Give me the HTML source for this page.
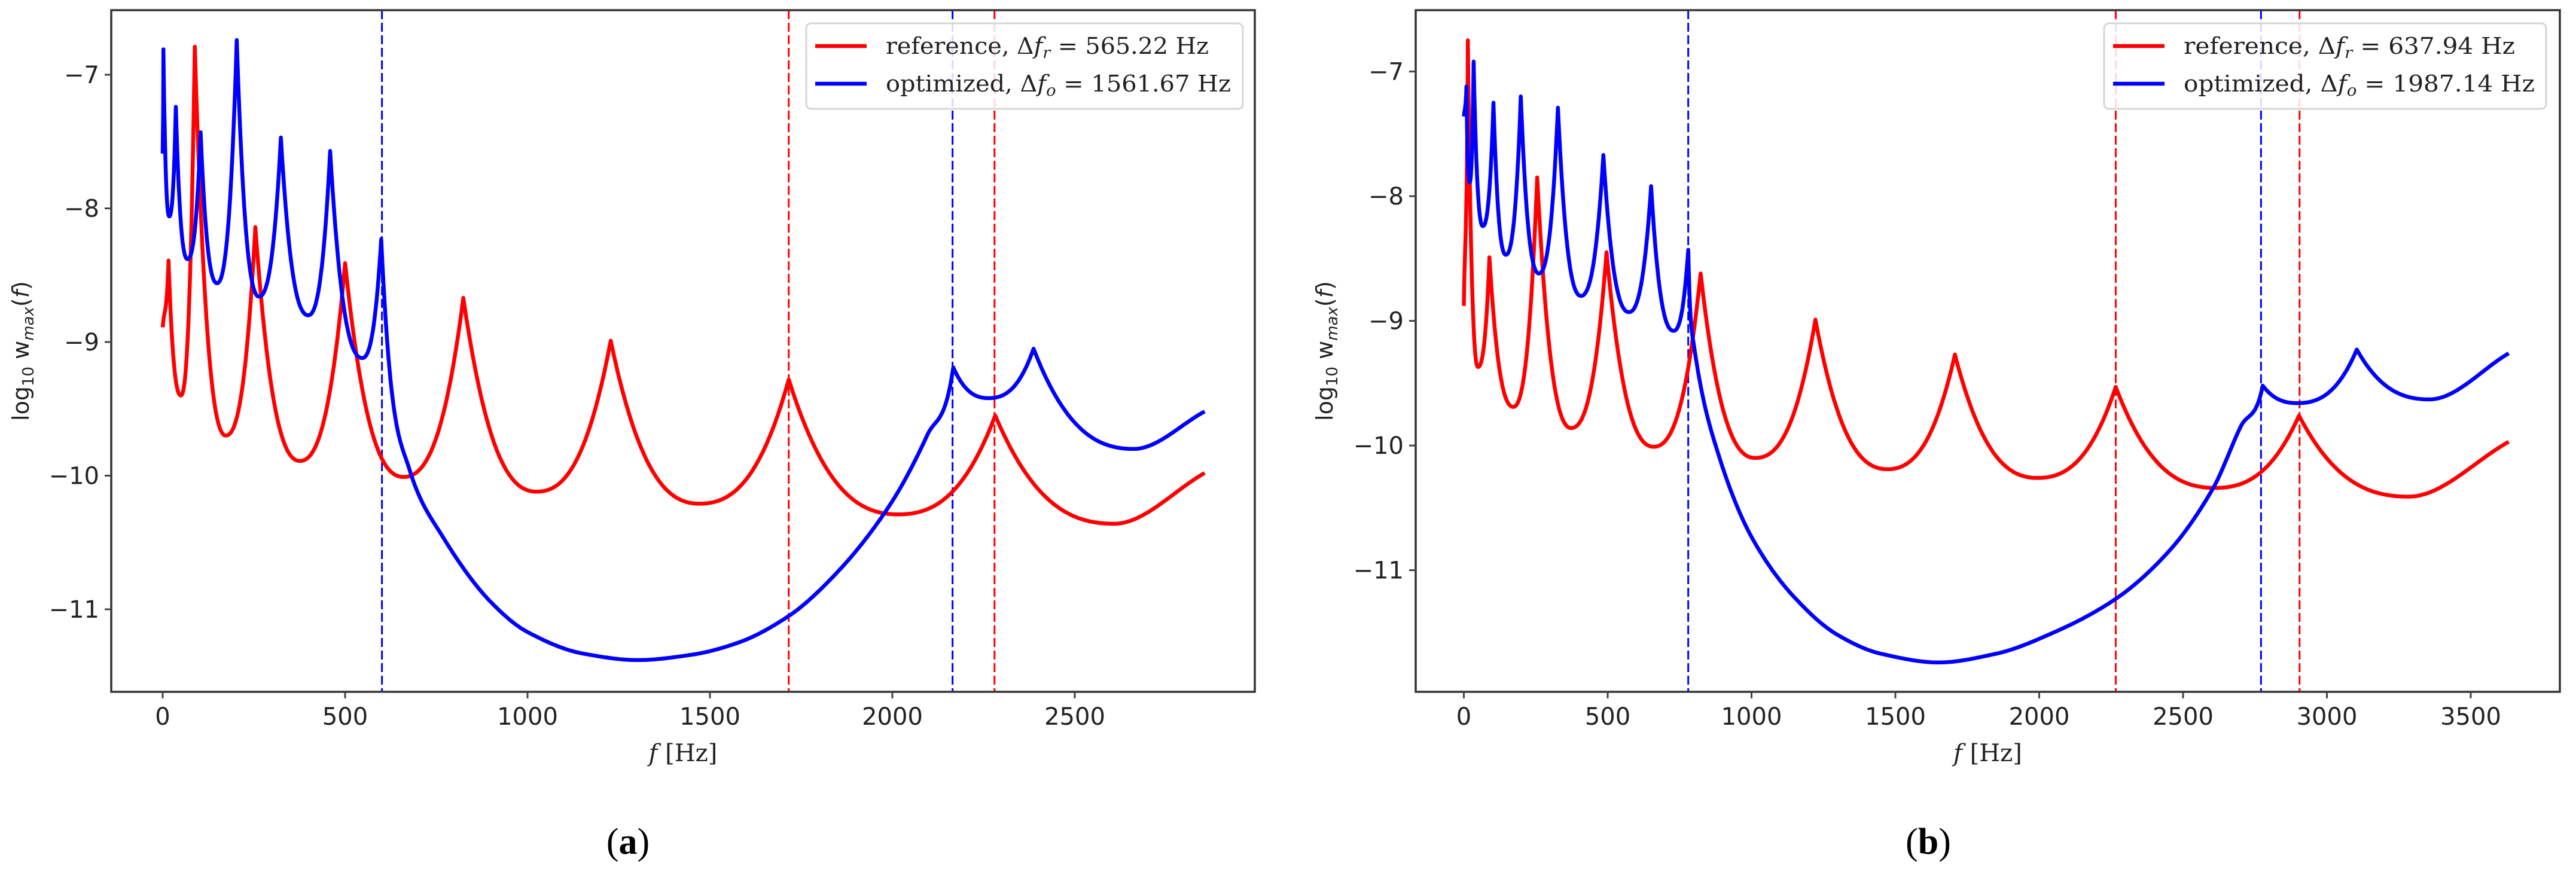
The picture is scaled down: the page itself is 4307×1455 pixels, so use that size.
<!DOCTYPE html>
<html><head><meta charset="utf-8">
<style>
html,body{margin:0;padding:0;background:#fff;}
svg{display:block;}
</style></head>
<body>
<svg id="fig" width="4307" height="1455" viewBox="0 0 4307 1455" xmlns="http://www.w3.org/2000/svg"></svg>
<script>
// ---------- Panel (a) data ----------
const aRefF = [0,16,50,88,173,254,376,500,660,824,1025,1228,1471,1716,2016,2282,2608,2856];
const aRefY = [-8.89,-8.39,-9.40,-6.79,-9.70,-8.14,-9.89,-8.41,-10.01,-8.67,-10.12,-8.99,-10.21,-9.28,-10.29,-9.55,-10.36,-9.98];
const aOptF = [0,2,18,36,68,104,149,203,264,324,399,459,547,599,676,766,901,1000,1150,1302,1450,1577,1716,1850,1993,2095,2167,2264,2387,2662,2856];
const aOptY = [-7.59,-6.81,-8.06,-7.24,-8.38,-7.43,-8.56,-6.74,-8.66,-7.47,-8.80,-7.57,-9.12,-8.23,-9.95,-10.45,-10.95,-11.17,-11.33,-11.38,-11.34,-11.25,-11.05,-10.72,-10.22,-9.70,-9.19,-9.42,-9.05,-9.80,-9.52];
const aVlinesF = [601,1716,2165,2280];
const aVlinesC = ['blue','red','blue','red'];
const aXTicks = [0,500,1000,1500,2000,2500];
const aYTicks = [-7,-8,-9,-10,-11];
const aLegend = ['565.22','1561.67'];

// ---------- Panel (b) data ----------
const bRefF = [0,14,49,89,172,255,373,496,660,823,1013,1222,1472,1707,1994,2266,2611,2903,3285,3632];
const bRefY = [-8.88,-6.75,-9.37,-8.49,-9.69,-7.85,-9.86,-8.45,-10.01,-8.62,-10.10,-8.99,-10.19,-9.27,-10.26,-9.53,-10.34,-9.76,-10.41,-9.97];
const bOptF = [0,9,20,34,66,103,146,198,261,327,407,485,574,651,729,780,800,889,1004,1150,1300,1450,1650,1850,2050,2266,2450,2605,2700,2777,2898,3104,3357,3632];
const bOptY = [-7.36,-7.12,-7.89,-6.92,-8.24,-7.25,-8.47,-7.20,-8.62,-7.29,-8.80,-7.67,-8.93,-7.92,-9.08,-8.43,-9.20,-10.10,-10.75,-11.22,-11.52,-11.67,-11.74,-11.67,-11.50,-11.23,-10.85,-10.34,-9.85,-9.52,-9.66,-9.23,-9.63,-9.26];
const bVlinesF = [780,2266,2771,2905];
const bVlinesC = ['blue','red','blue','red'];
const bXTicks = [0,500,1000,1500,2000,2500,3000,3500];
const bYTicks = [-7,-8,-9,-10,-11];
const bLegend = ['637.94','1987.14'];

const NS = 'http://www.w3.org/2000/svg';
const svg = document.getElementById('fig');
function mk(tag, attrs, parent){
  const e = document.createElementNS(NS, tag);
  for (const k in attrs) e.setAttribute(k, attrs[k]);
  (parent||svg).appendChild(e);
  return e;
}

function curvePath(F, Y, sx, sy){
  const n = F.length, s = [];
  for (let i=0;i<n-1;i++) s.push((Y[i+1]-Y[i])/(F[i+1]-F[i]));
  const mL = new Array(n).fill(0), mR = new Array(n).fill(0);
  for (let i=0;i<n;i++){
    if (i===0){ mR[i]=s[0]; continue; }
    if (i===n-1){ mL[i]=s[n-2]; continue; }
    const a=s[i-1], b=s[i];
    if (Y[i]>Y[i-1] && Y[i]>Y[i+1]){ mL[i]=2.6*a; mR[i]=2.6*b; }
    else if (Y[i]<Y[i-1] && Y[i]<Y[i+1]){ mL[i]=0; mR[i]=0; }
    else if (a*b<=0){ mL[i]=mR[i]=0; }
    else { const m = 2/(1/a+1/b); mL[i]=mR[i]=m; }
  }
  let d = 'M'+sx(F[0]).toFixed(1)+','+sy(Y[0]).toFixed(1);
  for (let i=0;i<n-1;i++){
    const h=F[i+1]-F[i], y0=Y[i], y1=Y[i+1];
    let m0=mR[i], m1=mL[i+1];
    if (s[i]!==0){
      const al=m0/s[i], be=m1/s[i], r=al*al+be*be;
      if (r>9){ const t=3/Math.sqrt(r); m0*=t; m1*=t; }
    }
    const N=24;
    for (let k=1;k<=N;k++){
      const t=k/N, t2=t*t, t3=t2*t;
      const y=(2*t3-3*t2+1)*y0+(t3-2*t2+t)*h*m0+(-2*t3+3*t2)*y1+(t3-t2)*h*m1;
      d+='L'+sx(F[i]+t*h).toFixed(1)+','+sy(y).toFixed(1);
    }
  }
  return d;
}

function panel(cfg){
  const g = mk('g',{});
  
  
  const L=cfg.left,R=cfg.right,T=17,B=1157;
  const sx = f => cfg.x0 + f*cfg.kx;
  const sy = v => cfg.y7 + (-7 - v)*cfg.ky;
  const clip = mk('clipPath',{id:cfg.name+'-clip'},g);
  mk('rect',{x:L,y:T,width:R-L,height:B-T},clip);
  const vg = mk('g',{'clip-path':'url(#'+cfg.name+'-clip)'},g);
  cfg.vf.forEach((f,i)=>{
    const l = mk('line',{x1:sx(f),x2:sx(f),y1:T,y2:B,stroke:cfg.vc[i],'stroke-width':3,'stroke-dasharray':'15,6'},vg);
    
    
  });
  const cg = mk('g',{'clip-path':'url(#'+cfg.name+'-clip)'},g);
  const pr = mk('path',{d:curvePath(cfg.rf,cfg.ry,sx,sy),fill:'none',stroke:'#ff0000','stroke-width':6.5,'stroke-linejoin':'round'},cg);
  
  
  const po = mk('path',{d:curvePath(cfg.of,cfg.oy,sx,sy),fill:'none',stroke:'#0000ff','stroke-width':6.5,'stroke-linejoin':'round'},cg);
  
  
  mk('rect',{x:L,y:T,width:R-L,height:B-T,fill:'none',stroke:'#333','stroke-width':3.5},g);
  cfg.xt.forEach(v=>{
    const x=sx(v);
    mk('line',{x1:x,x2:x,y1:B,y2:B+11,stroke:'#444','stroke-width':3},g);
    const t = mk('text',{x:x,y:B+55,'text-anchor':'middle','font-family':'DejaVu Sans, Liberation Sans, sans-serif','font-size':40,fill:'#222'},g);
    t.textContent = String(v);
    
    
  });
  cfg.yt.forEach(v=>{
    const y=sy(v);
    mk('line',{x1:L-11,x2:L,y1:y,y2:y,stroke:'#444','stroke-width':3},g);
    const t = mk('text',{x:L-20,y:y+14,'text-anchor':'end','font-family':'DejaVu Sans, Liberation Sans, sans-serif','font-size':40,fill:'#222'},g);
    t.textContent = '\u2212'+String(-v);
    
    
  });
  const xl = mk('text',{x:(L+R)/2,y:1273,'text-anchor':'middle','font-family':'DejaVu Serif, Liberation Serif, serif','font-size':40,fill:'#222'},g);
  xl.innerHTML = '<tspan font-style="italic">f</tspan> [Hz]';
  
  
  const yl = mk('text',{x:0,y:0,'text-anchor':'middle','font-family':'DejaVu Sans, Liberation Sans, sans-serif','font-size':38,fill:'#222',transform:'translate('+(cfg.ylx)+','+((T+B)/2)+') rotate(-90)'},g);
  yl.innerHTML = 'log<tspan font-size="26" dy="8">10</tspan><tspan dy="-8"> w</tspan><tspan font-size="26" font-style="italic" dy="8">max</tspan><tspan dy="-8">(</tspan><tspan font-style="italic">f</tspan>)';
  
  
  const lg = mk('g',{},g);
  
  
  mk('rect',{x:cfg.lgx,y:39,width:cfg.lgw,height:143,rx:8,fill:'#fff','fill-opacity':0.85,stroke:'#d6d6d6','stroke-width':3},lg);
  const rows=[['reference','r','red',cfg.lv[0],77,cfg.w1],['optimized','o','blue',cfg.lv[1],140,cfg.w2]];
  rows.forEach(r=>{
    const ln = mk('line',{x1:cfg.lgx+15,x2:cfg.lgx+101,y1:r[4],y2:r[4],stroke:r[2],'stroke-width':6.5},lg);
    
    
    const t = mk('text',{x:cfg.lgx+133,y:r[4]+13,'font-family':'DejaVu Serif, Liberation Serif, serif','font-size':38,fill:'#222',textLength:r[5],lengthAdjust:'spacingAndGlyphs'},lg);
    t.innerHTML = r[0]+', \u0394<tspan font-style="italic">f</tspan><tspan font-style="italic" font-size="26" dy="7">'+r[1]+'</tspan><tspan dy="-7"> = '+r[3]+' Hz</tspan>';
    
    
  });
  const cap = mk('text',{x:cfg.capx,y:1428,'text-anchor':'middle','font-family':'Liberation Serif, DejaVu Serif, serif','font-size':62,fill:'#000'},g);
  cap.innerHTML = '(<tspan font-weight="bold">'+cfg.cap+'</tspan>)';
  
  
}

panel({name:'panel-a',left:186,right:2098,x0:272,kx:0.61,y7:125,ky:223.5,
  rf:aRefF,ry:aRefY,of:aOptF,oy:aOptY,vf:aVlinesF,vc:aVlinesC,xt:aXTicks,yt:aYTicks,
  ylx:48,lgx:1348,lgw:730,w1:540,w2:577,lv:aLegend,capx:1050,cap:'a'});
panel({name:'panel-b',left:2367,right:4280,x0:2447.5,kx:0.481,y7:119.6,ky:208.5,
  rf:bRefF,ry:bRefY,of:bOptF,oy:bOptY,vf:bVlinesF,vc:bVlinesC,xt:bXTicks,yt:bYTicks,
  ylx:2228,lgx:3518,lgw:739,w1:554,w2:587,lv:bLegend,capx:3224,cap:'b'});
</script>
</body></html>
